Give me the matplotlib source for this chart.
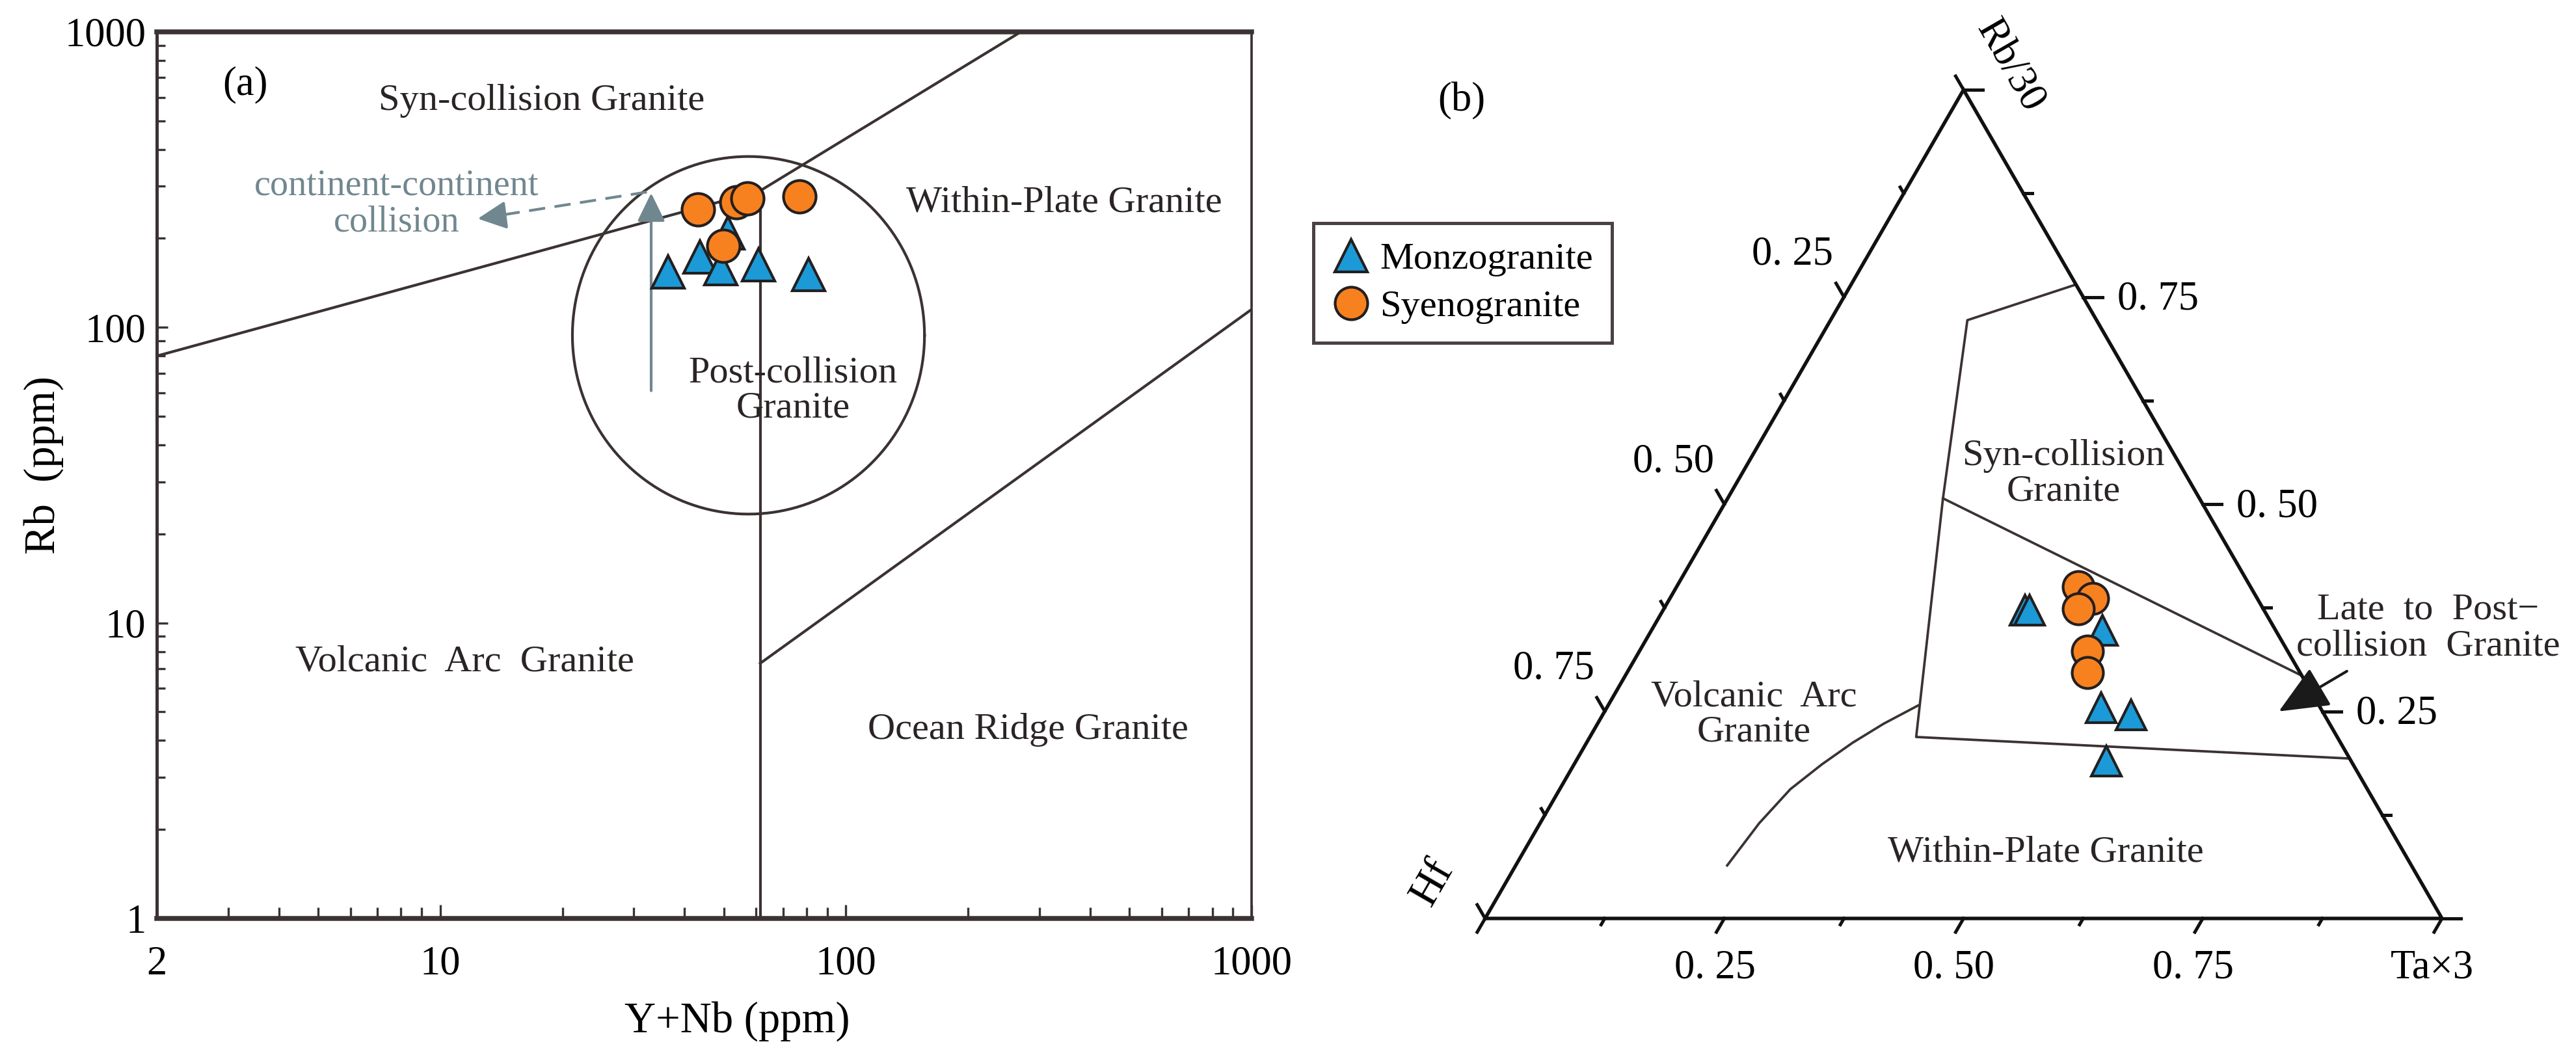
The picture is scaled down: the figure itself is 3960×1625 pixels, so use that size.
import numpy as np
import matplotlib
matplotlib.use('Agg')
import matplotlib.pyplot as plt
from matplotlib.ticker import FixedLocator, NullFormatter
from matplotlib.lines import Line2D

plt.rcParams['font.family'] = ['Liberation Serif', 'DejaVu Serif']

# ---- colours
BLUE = '#1B9AD7'
ORANGE = '#F7811F'
EDGE = '#231f20'
LINE = '#3b3232'
GRAY = '#71878f'

# ---- (a) Rb vs Y+Nb  (Pearce 1984 / 1996)
monzo_ynb = [36.5, 43.6, 49.2, 51.2, 60.8, 80.8]
monzo_rb = [154, 173, 158, 209, 163, 151]
syeno_ynb = [43.1, 53.7, 57.1, 76.9, 49.8]
syeno_rb = [250, 265, 273, 277, 189]

# field boundaries (Y+Nb, Rb)
vag_syn_x = [2, 61.5]
vag_syn_y = [80, 290]
syn_wpg_x = [61.5, 270]
syn_wpg_y = [290, 1000]
vag_org_x = [61.5, 61.5]
vag_org_y = [1, 290]
wpg_org_x = [61.5, 1000]
wpg_org_y = [7.3, 115]
# post-collision field (centre and radii in log units)
post_centre = (57.5, 94)
post_radius = (0.434, 0.605)

# arrows (Y+Nb, Rb)
up_arrow = [(33.1, 58.5), (33.1, 297)]
dash_arrow = [(32.3, 287), (12.0, 232)]

# ---- (b) Rb/30 - Hf - Ta*3  (Harris et al. 1986), fractions (Rb, Hf, Ta)
monzo_t = [(0.372, 0.250, 0.378), (0.372, 0.245, 0.383), (0.348, 0.181, 0.471),
           (0.254, 0.229, 0.517), (0.246, 0.202, 0.552), (0.190, 0.256, 0.554)]
syeno_t = [(0.400, 0.180, 0.420), (0.386, 0.172, 0.442), (0.374, 0.193, 0.433),
           (0.323, 0.209, 0.468), (0.297, 0.222, 0.481)]

syn_field = [(0.765, 0.000, 0.235), (0.722, 0.135, 0.143), (0.507, 0.268, 0.225),
             (0.219, 0.440, 0.341), (0.193, 0.000, 0.807)]
late_post = [(0.507, 0.268, 0.225), (0.293, 0.000, 0.707)]
vag_wpg_rb = [0.064, 0.115, 0.156, 0.186, 0.212, 0.235, 0.257]
vag_wpg_ta = [0.221, 0.229, 0.241, 0.259, 0.278, 0.299, 0.324]

tern_ticks = [0, 0.125, 0.25, 0.375, 0.5, 0.625, 0.75, 0.875, 1.0]
tern_major = [0.25, 0.5, 0.75]
tern_labels = ['0. 25', '0. 50', '0. 75']


def tern_xy(rb, hf, ta):
    rb = np.asarray(rb, float)
    hf = np.asarray(hf, float)
    ta = np.asarray(ta, float)
    s = rb + hf + ta
    return (ta + rb / 2) / s, rb * np.sqrt(3) / 2 / s


def main():
    fig = plt.figure(figsize=(13.2, 5.4167), dpi=300)

    # ================= panel (a)
    ax = fig.add_axes([0.06086, 0.1311, 0.4250, 0.8388])
    ax.set_xscale('log')
    ax.set_yscale('log')
    ax.set_xlim(2, 1000)
    ax.set_ylim(1, 1000)

    ax.xaxis.set_major_locator(FixedLocator([2, 10, 100, 1000]))
    ax.xaxis.set_minor_locator(FixedLocator([3, 4, 5, 6, 7, 8, 9, 20, 30, 40, 50, 60, 70, 80, 90,
                                             200, 300, 400, 500, 600, 700, 800, 900]))
    ax.set_xticklabels(['2', '10', '100', '1000'])
    ax.yaxis.set_major_locator(FixedLocator([1, 10, 100, 1000]))
    ax.yaxis.set_minor_locator(FixedLocator([2, 3, 4, 5, 6, 7, 8, 9, 20, 30, 40, 50, 60, 70, 80, 90,
                                             200, 300, 400, 500, 600, 700, 800, 900]))
    ax.set_yticklabels(['1', '10', '100', '1000'])
    ax.xaxis.set_minor_formatter(NullFormatter())
    ax.yaxis.set_minor_formatter(NullFormatter())
    ax.tick_params(which='both', direction='in', color=LINE, width=0.8, labelsize=15)
    ax.tick_params(axis='x', which='major', length=5, pad=10)
    ax.tick_params(axis='x', which='minor', length=4)
    ax.tick_params(axis='y', which='major', length=4, pad=4)
    ax.tick_params(axis='y', which='minor', length=3)

    for side, lw in [('top', 1.8), ('bottom', 1.8), ('left', 1.2), ('right', 0.9)]:
        ax.spines[side].set_linewidth(lw)
        ax.spines[side].set_color(LINE)

    lkw = dict(color=LINE, lw=1.0, zorder=2)
    ax.plot(vag_syn_x, vag_syn_y, **lkw)
    ax.plot(syn_wpg_x, syn_wpg_y, **lkw)
    ax.plot(vag_org_x, vag_org_y, **lkw)
    ax.plot(wpg_org_x, wpg_org_y, **lkw)

    t = np.linspace(0, 2 * np.pi, 361)
    ex = 10 ** (np.log10(post_centre[0]) + post_radius[0] * np.cos(t))
    ey = 10 ** (np.log10(post_centre[1]) + post_radius[1] * np.sin(t))
    ax.plot(ex, ey, **lkw)

    # arrows
    ax.annotate('', xy=up_arrow[1], xytext=up_arrow[0],
                arrowprops=dict(arrowstyle='-|>,head_length=0.45,head_width=0.22',
                                color=GRAY, lw=1.0, mutation_scale=20), zorder=3)
    (x0, y0), (x1, y1) = dash_arrow
    ax.plot([x0, x1 * 1.06], [y0, y1 * 1.01], color=GRAY, lw=1.0, dashes=(6, 3.5), zorder=3)
    ax.annotate('', xy=(x1, y1), xytext=(x1 * 1.12, y1 * 1.02),
                arrowprops=dict(arrowstyle='-|>,head_length=0.45,head_width=0.22',
                                color=GRAY, lw=1.0, mutation_scale=20), zorder=3)

    ax.plot(monzo_ynb, monzo_rb, ls='none', marker='^', ms=12, mfc=BLUE, mec=EDGE, mew=1.0, zorder=4)
    ax.plot(syeno_ynb, syeno_rb, ls='none', marker='o', ms=12, mfc=ORANGE, mec=EDGE, mew=1.0, zorder=5)

    tkw = dict(fontsize=14, ha='center', va='center', color='#2a2424')
    ax.text(3.3, 660, '(a)', fontsize=15, ha='center', va='center')
    ax.text(17.8, 585, 'Syn-collision Granite', **tkw)
    ax.text(345, 264, 'Within-Plate Granite', **tkw)
    ax.text(74, 61, 'Post-collision\nGranite', linespacing=1.05, **tkw)
    ax.text(11.5, 7.4, 'Volcanic  Arc  Granite', **tkw)
    ax.text(281, 4.35, 'Ocean Ridge Granite', **tkw)
    ax.text(7.8, 262, 'continent-continent\ncollision', fontsize=13.5, ha='center', va='center',
            color=GRAY, linespacing=1.1)

    ax.text(0.53, -0.116, 'Y+Nb (ppm)', transform=ax.transAxes, fontsize=16, ha='center', va='center')
    ax.text(-0.1034, 0.5114, 'Rb  (ppm)', transform=ax.transAxes, fontsize=16, ha='center',
            va='center', rotation=90)

    # legend
    handles = [Line2D([], [], ls='none', marker='^', ms=12, mfc=BLUE, mec=EDGE, mew=1.0),
               Line2D([], [], ls='none', marker='o', ms=12, mfc=ORANGE, mec=EDGE, mew=1.0)]
    leg = fig.legend(handles, ['Monzogranite', 'Syenogranite'], loc='upper left',
                     bbox_to_anchor=(0.5098, 0.7889), borderaxespad=0, frameon=True,
                     fancybox=False, framealpha=1, edgecolor='#4a4242', fontsize=14,
                     handlelength=1.0, handletextpad=0.25, borderpad=0.5, labelspacing=0.35)
    leg.get_frame().set_linewidth(1.2)

    # ================= panel (b)
    bx = fig.add_axes([2150 / 3960, 0, 1 - 2150 / 3960, 1])
    bx.set_xlim((2150 - 2283) / 1471, (3960 - 2283) / 1471)
    bx.set_ylim((1412 - 1625) / 1471, 1412 / 1471)
    bx.axis('off')

    h = np.sqrt(3) / 2
    bx.plot([0, 1, 0.5, 0], [0, 0, h, 0], color='#111111', lw=1.3, solid_joinstyle='miter', zorder=3)

    # ternary ticks
    for v in tern_ticks:
        L = 0.0165 if v in tern_major or v in (0, 1.0) else 0.0075
        # bottom (Ta)
        bx.plot([v, v - 0.5 * L], [0, -h * L], color='#111111', lw=1.2)
        # right (Rb/30)
        px, py = 1 - v / 2, v * h
        bx.plot([px, px + L * 1.2], [py, py], color='#111111', lw=1.2)
        # left (Hf)
        px, py = 0.5 * (1 - v), h * (1 - v)
        bx.plot([px, px - 0.5 * L], [py, py + h * L], color='#111111', lw=1.2)

    for v, lab in zip(tern_major, tern_labels):
        bx.text(v - 0.01, -0.052, lab, fontsize=15, ha='center', va='center')
        bx.text(1 - v / 2 + 0.078, v * h - 0.003, lab, fontsize=15, ha='center', va='center')
        bx.text(0.5 * (1 - v) - 0.0535, h * (1 - v) + 0.044, lab, fontsize=15, ha='center', va='center')
    bx.text(0.9898, -0.052, 'Ta×3', fontsize=15, ha='center', va='center')
    bx.text(0.5479, 0.8912, 'Rb/30', fontsize=15, ha='center', va='center', rotation=-60)
    bx.text(-0.0551, 0.0374, 'Hf', fontsize=16, ha='center', va='center', rotation=60)
    bx.text(-0.0245, 0.8545, '(b)', fontsize=15, ha='center', va='center')

    fkw = dict(color=LINE, lw=0.9, zorder=2)
    fx, fy = tern_xy(*zip(*syn_field))
    bx.plot(fx, fy, **fkw)
    fx, fy = tern_xy(*zip(*late_post))
    bx.plot(fx, fy, **fkw)
    cx, cy = tern_xy(vag_wpg_rb, 1 - np.array(vag_wpg_rb) - np.array(vag_wpg_ta), vag_wpg_ta)
    bx.plot(cx, cy, **fkw)

    mx, my = tern_xy(*zip(*monzo_t))
    bx.plot(mx, my, ls='none', marker='^', ms=11, mfc=BLUE, mec=EDGE, mew=1.0, zorder=4)
    sx, sy = tern_xy(*zip(*syeno_t))
    bx.plot(sx, sy, ls='none', marker='o', ms=11.5, mfc=ORANGE, mec=EDGE, mew=1.0, zorder=5)

    bx.text(0.6044, 0.4647, 'Syn-collision\nGranite', linespacing=1.05, **tkw)
    bx.text(0.2808, 0.2134, 'Volcanic  Arc\nGranite', linespacing=1.05, **tkw)
    bx.text(0.5860, 0.0687, 'Within-Plate Granite', **tkw)
    bx.text(0.9857, 0.3032, 'Late  to  Post\u2212\ncollision  Granite', linespacing=1.1, **tkw)
    bx.annotate('', xy=(0.8246, 0.2135), xytext=(0.9055, 0.2613),
                arrowprops=dict(arrowstyle='-|>,head_length=0.8,head_width=0.35',
                                color='#1a1a1a', lw=1.0, mutation_scale=20))

    fig.savefig('out.png', dpi=300)


if __name__ == '__main__':
    main()
